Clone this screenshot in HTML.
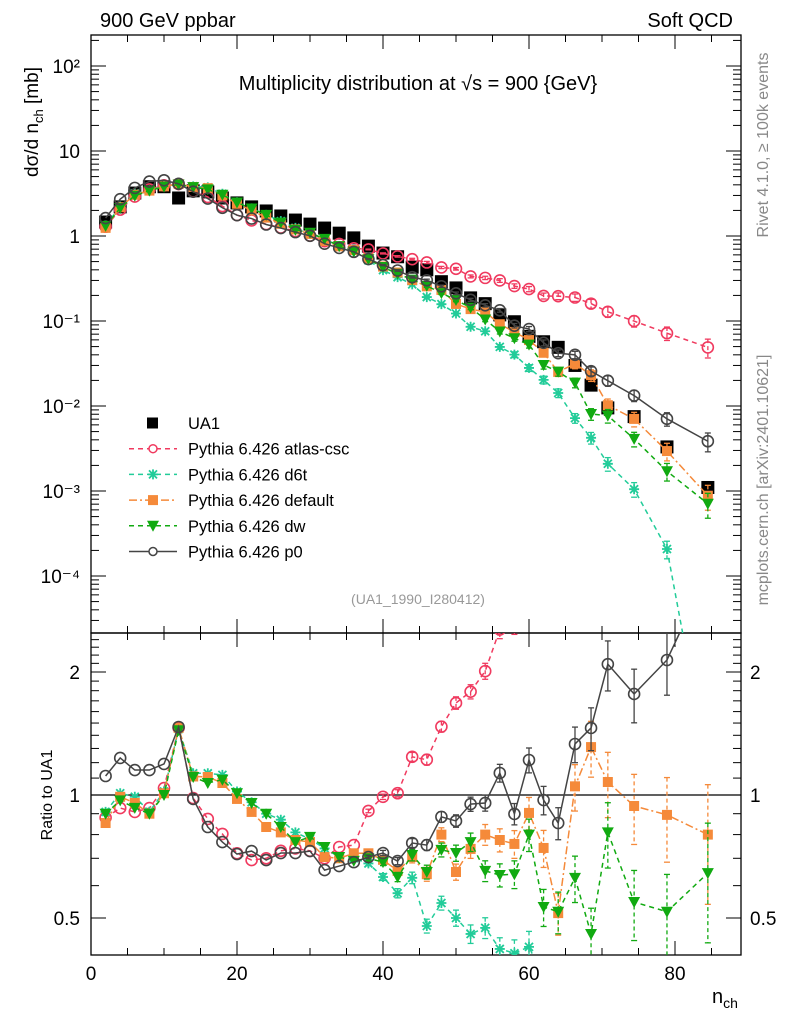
<!DOCTYPE html>
<html><head><meta charset="utf-8"><style>
html,body{margin:0;padding:0;background:#fff;width:786px;height:1024px;overflow:hidden;}
svg{display:block;font-family:"Liberation Sans",sans-serif;}
</style></head><body>
<svg id="chart" width="786" height="1024" viewBox="0 0 786 1024" xmlns="http://www.w3.org/2000/svg">
<defs>
<clipPath id="cm"><rect x="91" y="35" width="650" height="598"/></clipPath>
<clipPath id="cr"><rect x="91" y="633" width="650" height="322"/></clipPath>
</defs>
<text x="100" y="27" font-size="20">900 GeV ppbar</text>
<text x="733" y="27" font-size="20" text-anchor="end">Soft QCD</text>
<text x="418" y="90" font-size="20" text-anchor="middle">Multiplicity distribution at √s = 900 {GeV}</text>
<text transform="translate(38,122) rotate(-90)" font-size="19" text-anchor="middle">dσ/d n<tspan font-size="13" dy="5">ch</tspan><tspan dy="-5"> [mb]</tspan></text>
<text transform="translate(768,145) rotate(-90)" font-size="16" fill="#888" text-anchor="middle">Rivet 4.1.0, ≥ 100k events</text>
<text transform="translate(768,480) rotate(-90)" font-size="16" fill="#888" text-anchor="middle">mcplots.cern.ch [arXiv:2401.10621]</text>
<text x="418" y="604" font-size="14" fill="#999" text-anchor="middle">(UA1_1990_I280412)</text>
<text transform="translate(52,795) rotate(-90)" font-size="16" text-anchor="middle">Ratio to UA1</text>
<text x="712" y="1003" font-size="20">n<tspan font-size="14" dy="5">ch</tspan></text>
<g id="axes"></g>
<g id="mainmarks" clip-path="url(#cm)"></g>
<g id="ratiomarks" clip-path="url(#cr)"></g>
<g id="legend"></g>
</svg>
<script>
const nch = [2,4,6,8,10,12,14,16,18,20,22,24,26,28,30,32,34,36,38,40,42,44,46,48,50,52,54,56,58,60,62,64,66.3,68.5,70.8,74.4,78.9,84.5];
const ua1 = [1.46,2.2,3.2,3.8,3.8,2.8,3.4,3.3,2.8,2.45,2.2,1.97,1.72,1.54,1.38,1.24,1.08,0.95,0.76,0.63,0.57,0.43,0.40,0.29,0.245,0.187,0.16,0.118,0.098,0.066,0.057,0.049,0.030,0.0176,0.0095,0.0075,0.0033,0.0011];
const ratioAtlas = [0.88,0.929,0.909,0.929,1.04,1.46,0.983,0.874,0.803,0.72,0.693,0.70,0.73,0.74,0.73,0.70,0.746,0.754,0.914,0.99,1.01,1.24,1.22,1.47,1.68,1.79,2.01,2.54,2.63,3.6,3.46,4.0,6.3,9.1,13.5,13.3,21.8,44.5];
const ratioD6t = [0.909,1.01,0.99,0.91,1.02,1.45,1.13,1.13,1.12,1.02,0.96,0.90,0.87,0.81,0.78,0.74,0.705,0.70,0.68,0.63,0.575,0.627,0.478,0.544,0.50,0.457,0.473,0.42,0.41,0.425,0.356,0.29,0.24,0.24,0.22,0.14,0.063,0.0005];
const ratioDefault = [0.854,0.99,0.956,0.90,1.01,1.46,1.11,1.107,1.07,0.978,0.909,0.835,0.81,0.776,0.767,0.705,0.70,0.72,0.72,0.694,0.652,0.705,0.64,0.80,0.648,0.738,0.80,0.776,0.759,0.904,0.742,0.514,1.05,1.31,1.076,0.94,0.894,0.80];
const ratioDw = [0.90,0.97,0.93,0.90,1.0,1.44,1.107,1.07,1.09,1.01,0.956,0.90,0.835,0.767,0.79,0.746,0.705,0.69,0.70,0.685,0.63,0.713,0.648,0.734,0.721,0.767,0.652,0.637,0.64,0.80,0.532,0.518,0.627,0.457,0.81,0.547,0.518,0.644];
const ratioP0 = [1.113,1.232,1.151,1.151,1.191,1.467,0.978,0.835,0.767,0.717,0.729,0.693,0.721,0.721,0.729,0.655,0.67,0.685,0.705,0.721,0.689,0.763,0.754,0.884,0.864,0.95,0.956,1.132,0.899,1.218,0.972,0.854,1.333,1.459,2.09,1.767,2.14,3.5];
const relErr = [0,0,0,0,0,0,0,0,0,0,0,0,0,0,0,0,0,0,0.01,0.015,0.02,0.025,0.03,0.03,0.035,0.04,0.045,0.05,0.06,0.07,0.08,0.09,0.1,0.12,0.14,0.15,0.18,0.25];
const xTicks = [0,20,40,60,80];
const mainTickLabels = ["10²","10","1","10⁻¹","10⁻²","10⁻³","10⁻⁴"];
const mainTickPowers = [2,1,0,-1,-2,-3,-4];
const ratioTicks = [2,1,0.5];

const NS="http://www.w3.org/2000/svg";
const X = n => 91 + 7.3*n;
const YM = v => 236 - 85*Math.log10(v);
const YR = r => 795 - 123*Math.log2(r);
function mk(tag, attrs, parent){const e=document.createElementNS(NS,tag);for(const k in attrs)e.setAttribute(k,attrs[k]);parent.appendChild(e);return e;}
const axes=document.getElementById('axes'), mm=document.getElementById('mainmarks'), rm=document.getElementById('ratiomarks'), lg=document.getElementById('legend');

// clip a polyline to a y band, returning list of segments (arrays of points)
function clipPolyline(pts, ymin, ymax){
  const segs=[]; let cur=[];
  const inside=p=>p[1]>=ymin&&p[1]<=ymax;
  for(let i=0;i<pts.length;i++){
    const p=pts[i];
    if(i===0){ if(inside(p)) cur.push(p); continue; }
    const a=pts[i-1], b=p;
    // compute portion of segment a-b inside band
    let t0=0,t1=1; const dy=b[1]-a[1];
    if(dy!==0){
      const ta=(ymin-a[1])/dy, tb=(ymax-a[1])/dy;
      t0=Math.max(t0,Math.min(ta,tb)); t1=Math.min(t1,Math.max(ta,tb));
    } else if(!(a[1]>=ymin&&a[1]<=ymax)){ t0=1; t1=0; }
    if(t0<=t1){
      const P=t=>[a[0]+(b[0]-a[0])*t, a[1]+dy*t];
      const s=P(t0), e=P(t1);
      if(cur.length===0) cur.push(s);
      cur.push(e);
      if(t1<1){ segs.push(cur); cur=[]; }
    } else { if(cur.length) segs.push(cur); cur=[]; }
  }
  if(cur.length>1) segs.push(cur);
  return segs.filter(s=>s.length>1);
}

let f1=mk('rect',{x:91,y:35,width:650,height:598,fill:'none',stroke:'#000','stroke-width':1.3},axes);


let f2=mk('rect',{x:91,y:633,width:650,height:322,fill:'none',stroke:'#000','stroke-width':1.3},axes);


for(let v=0; v<=88; v+=5){
  const big = v%20===0, L = big?14:7, x=X(v);
  [[35,1],[633,-1],[633,1],[955,-1]].forEach(([y0,d])=>{mk('line',{x1:x,x2:x,y1:y0,y2:y0+d*L,stroke:'#000','stroke-width':1},axes);});
}
xTicks.forEach(v=>{const t=mk('text',{x:X(v),y:980,'font-size':19,'text-anchor':'middle'},axes);t.textContent=v;

});
for(let p=-5;p<=2;p++){for(let m=1;m<10;m++){const v=m*Math.pow(10,p);const y=YM(v);if(y<35||y>633)continue;const L=m===1?15:8;
 mk('line',{x1:91,x2:91+L,y1:y,y2:y,stroke:'#000'},axes);mk('line',{x1:741,x2:741-L,y1:y,y2:y,stroke:'#000'},axes);}}
mainTickPowers.forEach((p,i)=>{const t=mk('text',{x:80,y:YM(Math.pow(10,p))+7,'font-size':19,'text-anchor':'end'},axes);t.textContent=mainTickLabels[i];

});
[0.5,0.6,0.7,0.8,0.9,1,1.1,1.2,1.3,1.4,1.5,1.6,1.7,1.8,1.9,2,2.1,2.2,2.3,2.4].forEach(r=>{const y=YR(r);if(y<633||y>955)return;const L=(r===0.5||r===1||r===2)?15:8;
 mk('line',{x1:91,x2:91+L,y1:y,y2:y,stroke:'#000'},axes);mk('line',{x1:741,x2:741-L,y1:y,y2:y,stroke:'#000'},axes);});
ratioTicks.forEach(r=>{const t=mk('text',{x:80,y:YR(r)+7,'font-size':19,'text-anchor':'end'},axes);t.textContent=r;


const t2=mk('text',{x:750,y:YR(r)+7,'font-size':19},axes);t2.textContent=r;

});
let ref=mk('line',{x1:91,x2:741,y1:YR(1),y2:YR(1),stroke:'#000','stroke-width':1.3},axes);



function marker(kind,color,x,y,g){
  if(kind==='square') return mk('rect',{x:x-6.5,y:y-6.5,width:13,height:13,fill:'#000'},g);
  if(kind==='circle') return mk('circle',{cx:x,cy:y,r:5.5,fill:'none',stroke:color,'stroke-width':1.6},g);
  if(kind==='fsquare') return mk('rect',{x:x-5,y:y-5,width:10,height:10,fill:color},g);
  if(kind==='tri') return mk('path',{d:`M${x-6},${y-5}L${x+6},${y-5}L${x},${y+6}Z`,fill:color},g);
  if(kind==='star'){const p=mk('path',{d:`M${x-5},${y}H${x+5}M${x},${y-5}V${y+5}M${x-4},${y-4}L${x+4},${y+4}M${x-4},${y+4}L${x+4},${y-4}`,stroke:color,'stroke-width':1.8},g);return p;}
}
const series=[
 {name:'atlas-csc',r:ratioAtlas,color:'#f03a5f',kind:'circle',dash:'5,4'},
 {name:'d6t',r:ratioD6t,color:'#22cc99',kind:'star',dash:'5,4'},
 {name:'default',r:ratioDefault,color:'#f58a3a',kind:'fsquare',dash:'8,3,2,3'},
 {name:'dw',r:ratioDw,color:'#11aa11',kind:'tri',dash:'5,4'},
 {name:'p0',r:ratioP0,color:'#444444',kind:'circle',dash:''}
];
const clampY=(y,a,b)=>Math.max(a,Math.min(b,y));
series.forEach(s=>{
  [[mm,(i)=>YM(s.r[i]*ua1[i]),'main',35,633,v=>YM(v)],[rm,(i)=>YR(s.r[i]),'ratio',633,955,v=>YR(v)]].forEach(([g,yf,pn,ymin,ymax,yfun])=>{
    const grp=mk('g',{},g);
    
    
    const raw=nch.map((n,i)=>[X(n),yf(i)]);
    clipPolyline(raw,ymin,ymax).forEach(seg=>{
      const ln=mk('polyline',{points:seg.map(p=>p[0]+','+p[1]).join(' '),fill:'none',stroke:s.color,'stroke-width':1.5,'stroke-dasharray':s.dash},grp);
      
      
    });
    nch.forEach((n,i)=>{
      const base = pn==='main'? s.r[i]*ua1[i] : s.r[i];
      const y=yfun(base);
      const e=relErr[i]*(s.name==='p0'||s.name==='atlas-csc'?1:1.3);
      if(e>0){
        const y1r=yfun(base*(1+e)), y2r=yfun(base*Math.max(0.01,1-e));
        if(!(y1r>ymax||y2r<ymin)){
          const y1=clampY(y1r,ymin,ymax), y2=clampY(y2r,ymin,ymax);
          mk('line',{x1:X(n),x2:X(n),y1:y1,y2:y2,stroke:s.color,'stroke-width':1.3,'stroke-dasharray':s.dash?'4,3':''},grp);
          if(y1r>=ymin) mk('line',{x1:X(n)-3,x2:X(n)+3,y1:y1,y2:y1,stroke:s.color,'stroke-width':1.3},grp);
          if(y2r<=ymax) mk('line',{x1:X(n)-3,x2:X(n)+3,y1:y2,y2:y2,stroke:s.color,'stroke-width':1.3},grp);
        }
      }
      if(y>=ymin-6 && y<=ymax+6){
        const m=marker(s.kind,s.color,X(n),y,grp);
        
        
      }
    });
  });
});
{const grp=mk('g',{},mm);


nch.forEach((n,i)=>{const m=marker('square','#000',X(n),YM(ua1[i]),grp);

});
mm.insertBefore(grp,mm.firstChild);}

const legNames=['UA1','Pythia 6.426 atlas-csc','Pythia 6.426 d6t','Pythia 6.426 default','Pythia 6.426 dw','Pythia 6.426 p0'];
const legKinds=[{kind:'square',color:'#000',dash:null}].concat(series);
legNames.forEach((nm,i)=>{
  const y=423+i*25.7, g=mk('g',{},lg);
  
  
  const s=legKinds[i];
  if(i>0) mk('line',{x1:129,x2:177,y1:y,y2:y,stroke:s.color,'stroke-width':1.5,'stroke-dasharray':s.dash},g);
  if(s.kind==='circle'){mk('circle',{cx:153,cy:y,r:4,fill:'#fff',stroke:s.color,'stroke-width':1.5},g);}
  else if(s.kind==='square'){mk('rect',{x:147,y:y-5.5,width:11,height:11,fill:'#000'},g);}
  else marker(s.kind,s.color,153,y,g);
  const t=mk('text',{x:188,y:y+6,'font-size':16.5},g);t.textContent=nm;
});
</script>
</body></html>
